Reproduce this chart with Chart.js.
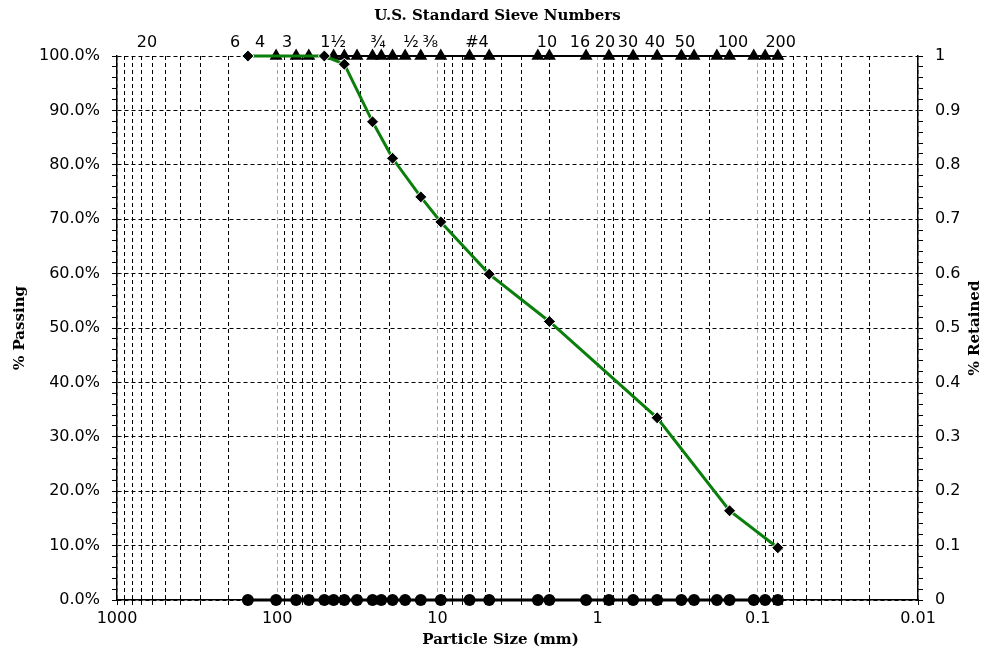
<!DOCTYPE html>
<html>
<head>
<meta charset="utf-8">
<script src="https://cdn.jsdelivr.net/npm/chart.js@4.4.0/dist/chart.umd.min.js"></script>
<style>
  html, body { margin: 0; padding: 0; background: #fff; }
  #out { display: block; }
</style>
</head>
<body>
<canvas id="out" width="989" height="656"></canvas>
<script>
// sieve openings in mm, 6" down to #200
const sieveSizes = [152.4, 101.6, 76.2, 63.5, 50.8, 44.45, 38.1, 31.75, 25.4, 22.4, 19.05, 15.9, 12.7, 9.525, 6.3, 4.75,
    2.36, 2.0, 1.18, 0.85, 0.6, 0.425, 0.3, 0.25, 0.18, 0.15, 0.106, 0.09, 0.075];
const retainedValues = [0, 0, 0, 0, 0, 0, 0, 0, 0, 0, 0, 0, 0, 0, 0, 0,
    0, 0, 0, 0, 0, 0, 0, 0, 0, 0, 0, 0, 0];

// triangles along the top (no marker at 6" and 2")
const topSizes = [101.6, 76.2, 63.5, 44.45, 38.1, 31.75, 25.4, 22.4, 19.05, 15.9, 12.7, 9.525, 6.3, 4.75,
    2.36, 2.0, 1.18, 0.85, 0.6, 0.425, 0.3, 0.25, 0.18, 0.15, 0.106, 0.09, 0.075];
const topValues = [1, 1, 1, 1, 1, 1, 1, 1, 1, 1, 1, 1, 1, 1,
    1, 1, 1, 1, 1, 1, 1, 1, 1, 1, 1, 1, 1];

// gradation curve
const passSizes = [152.4, 50.8, 38.1, 25.4, 19.05, 12.7, 9.525, 4.75, 2.0, 0.425, 0.15, 0.075];
const passPercent = [100, 100, 98.5, 87.9, 81.2, 74.1, 69.5, 59.9, 51.2, 33.5, 16.4, 9.6];

// sieve number labels on the top axis
const sieveLabels = ["20", "6", "4", "3", "1½", "¾", "½", "⅜", "#4", "10", "16", "20", "30", "40", "50", "100", "200"];
const sieveLabelPos = [650, 183, 128, 86.9, 44.8, 23.5, 14.6, 11.1, 5.66, 2.07, 1.29, 0.90, 0.646, 0.438, 0.285, 0.143, 0.072];

const sizeTicks = [1000, 100, 10, 1, 0.1, 0.01];
const sizeTickLabels = ["1000", "100", "10", "1", "0.1", "0.01"];

const tickFont = { family: "DejaVu Sans", size: 16 };
const titleFont = { family: "DejaVu Serif", size: 15, weight: "bold" };
const titleCss = "bold 15px 'DejaVu Serif'";

function isDecade(v) {
    return sizeTicks.some(d => Math.abs(v - d) / d < 1e-6);
}

// titles that Chart.js cannot place: right one reads bottom-to-top,
// horizontal ones sit a little left of the plot centre
const axisTitles = {
    id: "axisTitles",
    afterDraw(chart) {
        const ctx = chart.ctx;
        const area = chart.chartArea;
        const midX = (area.left + area.right) / 2 - 20;
        ctx.save();
        ctx.font = titleCss;
        ctx.fillStyle = "#000";
        ctx.textAlign = "center";
        ctx.textBaseline = "middle";
        ctx.fillText("U.S. Standard Sieve Numbers", midX, 16);
        ctx.fillText("Particle Size (mm)", midX + 3, 640);
        const s = chart.scales.y2;
        ctx.translate(s.right - 14, (s.top + s.bottom) / 2);
        ctx.rotate(-Math.PI / 2);
        ctx.fillText("% Retained", 0, 0);
        ctx.restore();
    }
};

const chartConfig = {
    type: "line",
    data: {
        datasets: [
            {
                label: "Passing",
                data: passSizes.map((x, i) => ({ x: x, y: passPercent[i] })),
                yAxisID: "y",
                borderColor: "#0b7f0b",
                borderWidth: 3,
                tension: 0,
                pointStyle: "rectRot",
                pointRadius: 6,
                pointBackgroundColor: "#000",
                pointBorderColor: "#fff",
                pointBorderWidth: 1,
                clip: false
            },
            {
                label: "Top",
                data: topSizes.map((x, i) => ({ x: x, y: topValues[i] })),
                yAxisID: "y2",
                borderColor: "#000",
                borderWidth: 2,
                pointStyle: "triangle",
                pointRadius: 7.5,
                pointBackgroundColor: "#000",
                pointBorderColor: "#000",
                pointBorderWidth: 0,
                clip: false
            },
            {
                label: "Retained",
                data: sieveSizes.map((x, i) => ({ x: x, y: retainedValues[i] })),
                yAxisID: "y2",
                borderColor: "#000",
                borderWidth: 3,
                pointStyle: "circle",
                pointRadius: 6,
                pointBackgroundColor: "#000",
                pointBorderColor: "#000",
                pointBorderWidth: 0,
                clip: false
            }
        ]
    },
    options: {
        responsive: false,
        animation: false,
        layout: { padding: 0 },
        plugins: {
            legend: { display: false },
            tooltip: { enabled: false }
        },
        scales: {
            x: {
                type: "logarithmic",
                position: "bottom",
                min: 0.01,
                max: 1000,
                reverse: true,
                afterBuildTicks(scale) {
                    const t = [];
                    for (let e = -2; e <= 2; e++) {
                        for (let k = 1; k <= 9; k++) {
                            t.push({ value: Number((k * Math.pow(10, e)).toPrecision(6)) });
                        }
                    }
                    t.push({ value: 1000 });
                    scale.ticks = t;
                },
                afterFit(scale) { scale.height = 56; },
                ticks: {
                    autoSkip: false,
                    maxRotation: 0,
                    color: "#000",
                    font: tickFont,
                    padding: 4,
                    callback(v) {
                        const i = sizeTicks.findIndex(d => Math.abs(v - d) / d < 1e-6);
                        return i >= 0 ? sizeTickLabels[i] : "";
                    }
                },
                grid: {
                    color: ctx => (ctx.tick && isDecade(ctx.tick.value)) ? "#a8a8a8" : "#000",
                    lineWidth: 1,
                    drawTicks: true,
                    tickLength: 5,
                    tickColor: "#000",
                    tickBorderDash: []
                },
                border: { display: true, color: "#000", width: 1.5, dash: [4, 3] },
                title: { display: false }
            },
            x2: {
                type: "logarithmic",
                position: "top",
                min: 0.01,
                max: 1000,
                reverse: true,
                afterBuildTicks(scale) {
                    scale.ticks = sieveLabelPos.map(v => ({ value: v }));
                },
                afterFit(scale) { scale.height = 56; },
                ticks: {
                    autoSkip: false,
                    maxRotation: 0,
                    color: "#000",
                    font: tickFont,
                    padding: 4,
                    callback: (v, i) => sieveLabels[i]
                },
                grid: { display: false, drawTicks: false, drawOnChartArea: false },
                border: { display: false },
                title: { display: false }
            },
            y: {
                position: "left",
                min: 0,
                max: 100,
                afterFit(scale) { scale.width = 117; },
                ticks: {
                    stepSize: 2,
                    autoSkip: false,
                    color: "#000",
                    font: tickFont,
                    padding: 12,
                    callback: v => (Math.round(v) % 10 === 0 ? v.toFixed(1) + "%" : "")
                },
                grid: {
                    color: ctx => (ctx.tick && Math.round(ctx.tick.value) % 10 === 0) ? "#000" : "rgba(0,0,0,0)",
                    lineWidth: 1,
                    tickLength: 5,
                    tickColor: "#000",
                    tickBorderDash: []
                },
                border: { display: true, color: "#000", width: 1.5, dash: [4, 3] },
                title: {
                    display: true,
                    text: "% Passing",
                    color: "#000",
                    font: titleFont,
                    padding: { top: 11, bottom: 0 }
                }
            },
            y2: {
                position: "right",
                min: 0,
                max: 1,
                afterFit(scale) { scale.width = 71; },
                ticks: {
                    stepSize: 0.02,
                    autoSkip: false,
                    color: "#000",
                    font: tickFont,
                    padding: 12,
                    callback: v => (Math.round(v * 100) % 10 === 0 ? String(Math.round(v * 10) / 10) : "")
                },
                grid: {
                    drawOnChartArea: false,
                    tickLength: 5,
                    tickColor: "#000",
                    tickBorderDash: []
                },
                border: { display: true, color: "#000", width: 1.5 }
            }
        }
    },
    plugins: [axisTitles]
};

const canvasCtx = document.getElementById("out").getContext("2d");
window.chart = new Chart(canvasCtx, chartConfig);
</script>
</body>
</html>
